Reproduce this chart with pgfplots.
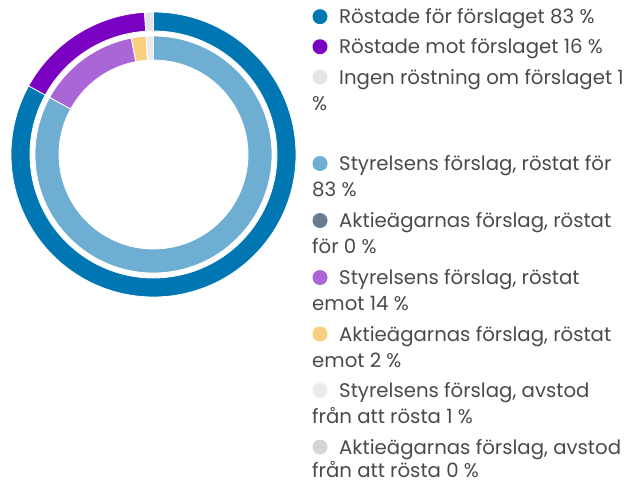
\documentclass[border=0pt]{standalone}
\usepackage{pgfplots}
\usepackage{pgfplotstable}
\pgfplotsset{compat=1.18}
\usepackage{fontspec}
\setmainfont{Poppins}

\definecolor{oblue}{HTML}{0077B3}
\definecolor{opurple}{HTML}{7A00C2}
\definecolor{ogray}{HTML}{E3E4E8}
\definecolor{iblue}{HTML}{6DAED2}
\definecolor{islate}{HTML}{6A7D90}
\definecolor{ipurple}{HTML}{AA66D6}
\definecolor{iyellow}{HTML}{F8CF80}
\definecolor{igray}{HTML}{EAEAEC}
\definecolor{igray2}{HTML}{D5D5D5}
\definecolor{txt}{HTML}{4A4A4A}

\pgfplotstableread{
value color
83 oblue
16 opurple
1 ogray
}\outerdata

\pgfplotstableread{
value color
83 iblue
0 islate
14 ipurple
2 iyellow
1 igray
0 igray2
}\innerdata

\newcommand{\ring}[3]{%
  \pgfplotstablegetrowsof{#1}%
  \pgfmathtruncatemacro{\N}{\pgfplotsretval-1}%
  \def\ang{90}%
  \pgfplotsforeachungrouped \i in {0,...,\N}{%
    \pgfplotstablegetelem{\i}{value}\of{#1}\let\v\pgfplotsretval
    \pgfplotstablegetelem{\i}{color}\of{#1}\let\c\pgfplotsretval
    \pgfmathsetmacro{\endang}{\ang-3.6*\v}%
    \ifdim\v pt>0pt
      \edef\temp{\noexpand\fill[\c, draw=white, line width=0.8bp]
        ([shift={(\ang:#2bp)}]axis cs:0,0) arc[start angle=\ang, end angle=\endang, radius=#2bp]
        -- ([shift={(\endang:#3bp)}]axis cs:0,0) arc[start angle=\endang, end angle=\ang, radius=#3bp]
        -- cycle;}%
      \temp
    \fi
    \let\ang\endang
  }%
}

\begin{document}
\begin{tikzpicture}
\path[use as bounding box] (0,0) rectangle (625bp,-483bp);
\begin{axis}[
  at={(153.5bp,-154.5bp)}, anchor=origin,
  width=300bp, height=300bp, scale only axis,
  xmin=-150, xmax=150, ymin=-150, ymax=150,
  hide axis, clip=false]
  \ring{\outerdata}{142.5}{123.5}
  \ring{\innerdata}{118.5}{94.5}
\end{axis}

\begin{scope}[every node/.style={anchor=base west, inner sep=0pt, text=txt, font=\fontsize{19.8}{23}\selectfont}]
\def\mk#1#2{\fill[#1] (320bp,-#2bp) circle[radius=7.5bp];}
\mk{oblue}{16.7}
\node at (339bp,-23.5bp) {Röstade för förslaget 83 \%};
\mk{opurple}{46.7}
\node at (339bp,-53.5bp) {Röstade mot förslaget 16 \%};
\mk{ogray}{77}
\node at (339bp,-84bp) {Ingen röstning om förslaget 1};
\node at (312bp,-110.5bp) {\%};

\mk{iblue}{163.5}
\node at (339bp,-170.5bp) {Styrelsens förslag, röstat för};
\node at (312bp,-196.5bp) {83 \%};
\mk{islate}{220.5}
\node at (339bp,-227.5bp) {Aktieägarnas förslag, röstat};
\node at (312bp,-253.5bp) {för 0 \%};
\mk{ipurple}{277.5}
\node at (339bp,-284bp) {Styrelsens förslag, röstat};
\node at (312bp,-310bp) {emot 14 \%};
\mk{iyellow}{334}
\node at (339bp,-341bp) {Aktieägarnas förslag, röstat};
\node at (312bp,-367bp) {emot 2 \%};
\mk{igray}{390.5}
\node at (339bp,-397.5bp) {Styrelsens förslag, avstod};
\node at (312bp,-423.5bp) {från att rösta 1 \%};
\mk{igray2}{447}
\node at (339bp,-454bp) {Aktieägarnas förslag, avstod};
\node at (312bp,-477.5bp) {från att rösta 0 \%};
\end{scope}
\end{tikzpicture}
\end{document}
